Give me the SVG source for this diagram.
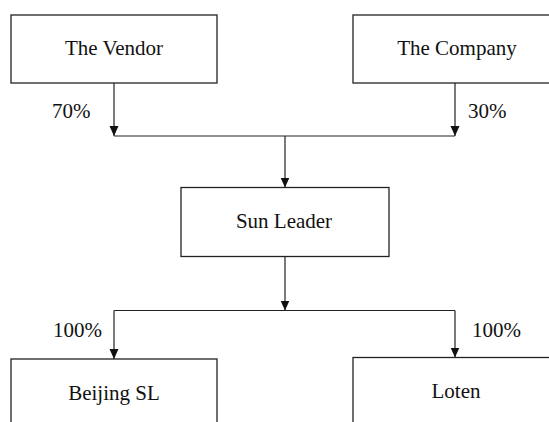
<svg xmlns="http://www.w3.org/2000/svg" width="549" height="422" viewBox="0 0 549 422">
<style>
.box{fill:#fff;stroke:#222;stroke-width:1.3}
.t{font-family:"Liberation Serif","Times New Roman",serif;font-size:21px;fill:#111}
.c{text-anchor:middle}
.ln{fill:none;stroke:#222;stroke-width:1.2}
</style>
<defs>
<marker id="ah" markerUnits="userSpaceOnUse" markerWidth="11" markerHeight="10" refX="10" refY="4.5" orient="auto">
<path d="M0,0 L10,4.5 L0,9 z" fill="#111"/>
</marker>
</defs>
<rect width="549" height="422" fill="#fff"/>
<g id="connectors">
<line class="ln" x1="114" y1="83" x2="114" y2="136" marker-end="url(#ah)"/>
<line class="ln" x1="455" y1="83" x2="455" y2="136" marker-end="url(#ah)"/>
<line class="ln" x1="114" y1="136" x2="455" y2="136"/>
<line class="ln" x1="285" y1="136" x2="285" y2="187.5" marker-end="url(#ah)"/>
<line class="ln" x1="285" y1="257" x2="285" y2="310.5" marker-end="url(#ah)"/>
<line class="ln" x1="114" y1="310.5" x2="455" y2="310.5"/>
<line class="ln" x1="114" y1="310.5" x2="114" y2="359" marker-end="url(#ah)"/>
<line class="ln" x1="455" y1="310.5" x2="455" y2="357.5" marker-end="url(#ah)"/>
<text class="t" x="52" y="118">70%</text>
<text class="t" x="468" y="118">30%</text>
<text class="t" x="53" y="337">100%</text>
<text class="t" x="472" y="337">100%</text>
</g>
<g id="vendor">
<rect class="box" x="11" y="15" width="206" height="68"/>
<text class="t c" x="114" y="55">The Vendor</text>
</g>
<g id="company">
<rect class="box" x="353" y="15" width="210" height="68"/>
<text class="t c" x="457" y="55">The Company</text>
</g>
<g id="sunleader">
<rect class="box" x="181" y="187.5" width="208" height="69"/>
<text class="t c" x="284" y="228">Sun Leader</text>
</g>
<g id="beijingsl">
<rect class="box" x="11" y="359" width="206" height="70"/>
<text class="t c" x="114" y="400">Beijing SL</text>
</g>
<g id="loten">
<rect class="box" x="353" y="357.5" width="210" height="70"/>
<text class="t c" x="456" y="398">Loten</text>
</g>
</svg>
